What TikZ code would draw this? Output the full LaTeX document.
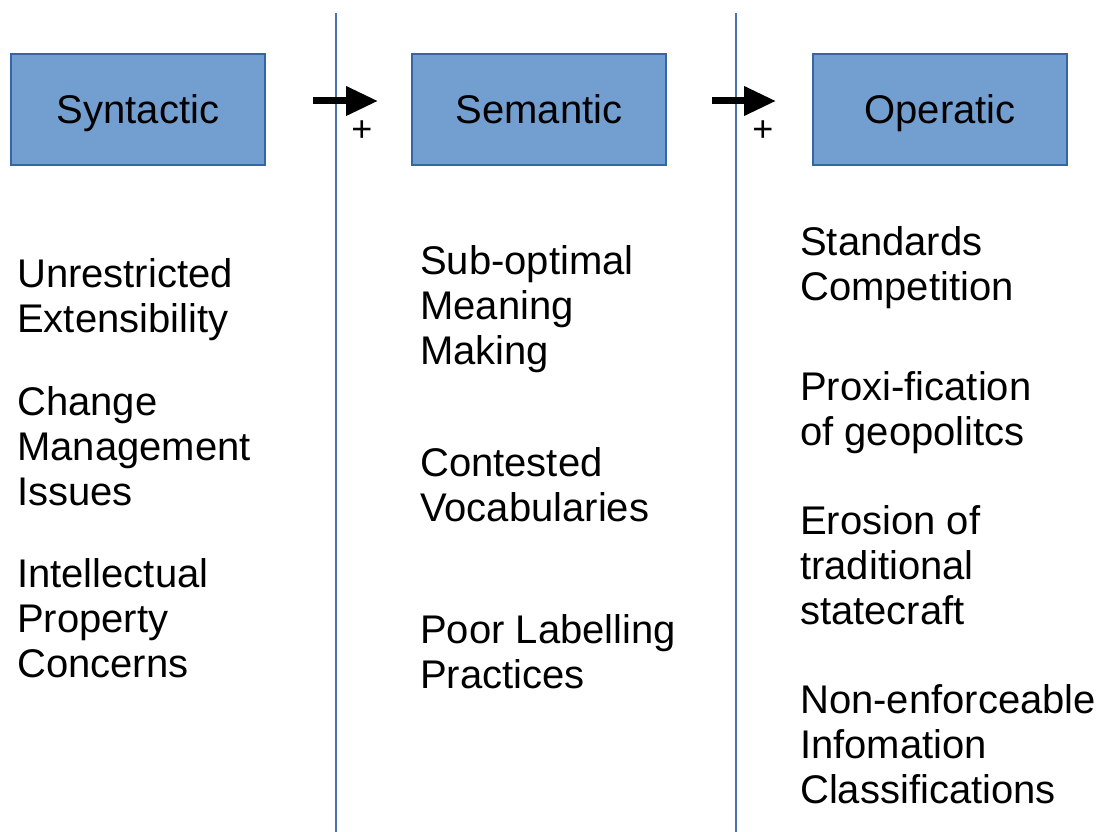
\documentclass[tikz,border=0pt]{standalone}
\usepackage{fontspec}
\setmainfont{Liberation Sans}
\usetikzlibrary{arrows.meta}
\definecolor{boxfill}{HTML}{729FCF}
\definecolor{boxline}{HTML}{3465A4}
\definecolor{sepline}{HTML}{4A72B0}
\begin{document}
\begin{tikzpicture}[x=1pt,y=-1pt,
  stage/.style={draw=boxline,fill=boxfill,line width=1.2pt,minimum width=254pt,minimum height=111pt,inner sep=0pt,text height=29pt,text depth=0pt,font=\fontsize{40}{45}\selectfont},
  item/.style={anchor=base west,inner sep=0pt,align=left,font=\fontsize{40}{45}\selectfont},
  plus/.style={inner sep=0pt,font=\fontsize{36}{36}\selectfont},
  sep/.style={draw=sepline,line width=1.3pt},
  flow/.style={line width=7pt,-{Triangle[length=32pt,width=28pt]}}]
\useasboundingbox (0,0) rectangle (1101,832);
% separators
\coordinate (s1t) at (336,13); \coordinate (s1b) at (336,832);
\coordinate (s2t) at (736,13); \coordinate (s2b) at (736,832);
\draw[sep] (s1t) -- (s1b);
\draw[sep] (s2t) -- (s2b);
% stage boxes
\node[stage] (syn) at (138,109.5) {Syntactic};
\node[stage] (sem) at (539,109.5) {Semantic};
\node[stage] (ope) at (940,109.5) {Operatic};
% arrows
\coordinate (a1s) at (313,101); \coordinate (a1e) at (378,101);
\coordinate (a2s) at (712,101); \coordinate (a2e) at (776,101);
\draw[flow] (a1s) -- (a1e);
\draw[flow] (a2s) -- (a2e);
\node[plus] (p1) at (362,131) {+};
\node[plus] (p2) at (763,131) {+};
% column 1
\node[item] (c1a) at (17,332) {Unrestricted\\Extensibility};
\node[item] (c1b) at (17,505) {Change\\Management\\Issues};
\node[item] (c1c) at (17,677) {Intellectual\\Property\\Concerns};
% column 2
\node[item] (c2a) at (420,364) {Sub-optimal\\Meaning\\Making};
\node[item] (c2b) at (420,521) {Contested\\Vocabularies};
\node[item] (c2c) at (420,688) {Poor Labelling\\Practices};
% column 3
\node[item] (c3a) at (800,300) {Standards\\Competition};
\node[item] (c3b) at (800,445) {Proxi-fication\\of geopolitcs};
\node[item] (c3c) at (800,624) {Erosion of\\traditional\\statecraft};
\node[item] (c3d) at (800,803) {Non-enforceable\\Infomation\\Classifications};
\end{tikzpicture}
\end{document}
